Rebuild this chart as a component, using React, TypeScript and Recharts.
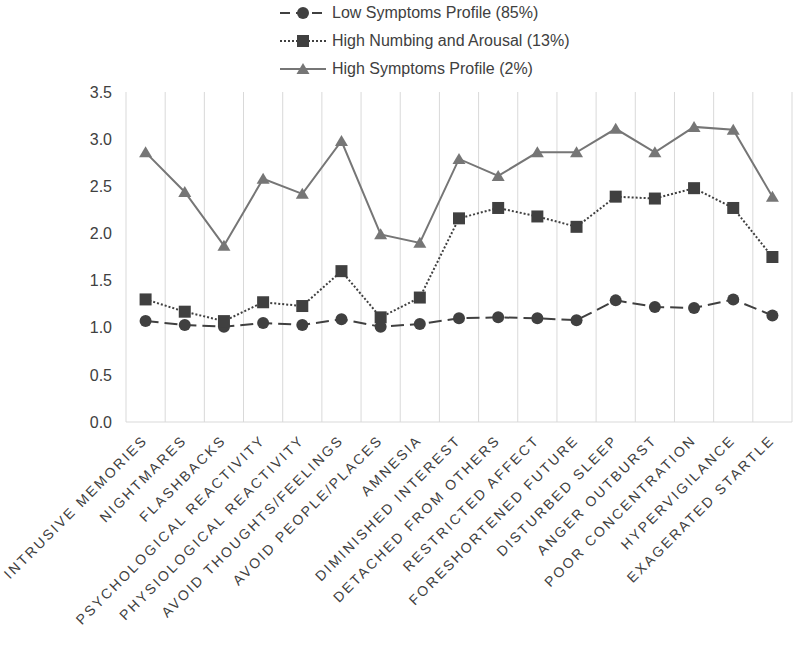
import React from 'react';
import { LineChart, Line, XAxis, YAxis, CartesianGrid, Legend } from 'recharts';

const categories = [
  'INTRUSIVE MEMORIES',
  'NIGHTMARES',
  'FLASHBACKS',
  'PSYCHOLOGICAL REACTIVITY',
  'PHYSIOLOGICAL REACTIVITY',
  'AVOID THOUGHTS/FEELINGS',
  'AVOID PEOPLE/PLACES',
  'AMNESIA',
  'DIMINISHED INTEREST',
  'DETACHED FROM OTHERS',
  'RESTRICTED AFFECT',
  'FORESHORTENED FUTURE',
  'DISTURBED SLEEP',
  'ANGER OUTBURST',
  'POOR CONCENTRATION',
  'HYPERVIGILANCE',
  'EXAGERATED STARTLE',
];

const lowSymptoms = [1.07, 1.03, 1.01, 1.05, 1.03, 1.09, 1.01, 1.04, 1.1, 1.11, 1.1, 1.08, 1.29, 1.22, 1.21, 1.3, 1.13];
const highNumbing = [1.3, 1.17, 1.07, 1.27, 1.23, 1.6, 1.11, 1.32, 2.16, 2.27, 2.18, 2.07, 2.39, 2.37, 2.48, 2.27, 1.75];
const highSymptoms = [2.86, 2.44, 1.87, 2.58, 2.42, 2.98, 1.99, 1.9, 2.79, 2.61, 2.86, 2.86, 3.11, 2.86, 3.13, 3.1, 2.39];

const yTicks = [0, 0.5, 1, 1.5, 2, 2.5, 3, 3.5];

const data = categories.map((name, i) => ({
  name,
  low: lowSymptoms[i],
  numbing: highNumbing[i],
  high: highSymptoms[i],
}));

const TEXT = '#404040';
const FONT = '"Liberation Sans", Arial, sans-serif';

type Shape = 'circle' | 'square' | 'triangle';

const SERIES: Array<{ key: string; label: string; color: string; markerColor: string; dash?: string; legendDash?: string; shape: Shape }> = [
  { key: 'low', label: 'Low Symptoms Profile (85%)', color: '#404040', markerColor: '#404040', dash: '13 6', legendDash: '10 6', shape: 'circle' },
  { key: 'numbing', label: 'High Numbing and Arousal (13%)', color: '#404040', markerColor: '#404040', dash: '2 2', legendDash: '2 2', shape: 'square' },
  { key: 'high', label: 'High Symptoms Profile (2%)', color: '#767676', markerColor: '#767676', shape: 'triangle' },
];

const Marker = ({ cx, cy, shape, color }: { cx: number; cy: number; shape: Shape; color: string }) => {
  if (shape === 'circle') return <circle cx={cx} cy={cy} r={6} fill={color} />;
  if (shape === 'square') return <rect x={cx - 6} y={cy - 6} width={12} height={12} fill={color} />;
  return <polygon points={`${cx},${cy - 6} ${cx + 6.5},${cy + 5} ${cx - 6.5},${cy + 5}`} fill={color} />;
};

const makeDot = (shape: Shape, color: string) => (props: any) => (
  <Marker key={`${shape}-${props.index}`} cx={props.cx} cy={props.cy} shape={shape} color={color} />
);

// rotated category labels, anchored at their end just under the tick
const CategoryTick = ({ x, y, payload }: any) => (
  <g transform={`translate(${x + 3},${y + 19})`}>
    <text
      textAnchor="end"
      transform="rotate(-45)"
      fontSize={14}
      letterSpacing={2.3}
      fill={TEXT}
      fontFamily={FONT}
    >
      {payload.value}
    </text>
  </g>
);

const LegendContent = () => (
  <div style={{ position: 'absolute', left: 280, top: -1, fontFamily: FONT, fontSize: 16, color: TEXT }}>
    {SERIES.map((s) => (
      <div key={s.key} style={{ display: 'flex', alignItems: 'center', height: 28 }}>
        <svg width={50} height={16} style={{ marginRight: 2 }}>
          <line x1={0} y1={8} x2={46} y2={8} stroke={s.color} strokeWidth={2} strokeDasharray={s.legendDash} />
          <Marker cx={23} cy={8} shape={s.shape} color={s.markerColor} />
        </svg>
        <span>{s.label}</span>
      </div>
    ))}
  </div>
);

export default function App() {
  return (
    <div style={{ position: 'absolute', left: 0, top: 0, width: 800, height: 668, background: '#fff' }}>
      <LineChart width={800} height={668} data={data} margin={{ top: 92, right: 8, left: 0, bottom: 0 }}>
        <CartesianGrid
          horizontal={false}
          stroke="#d9d9d9"
          verticalCoordinatesGenerator={({ offset }: any) =>
            Array.from({ length: categories.length + 1 }, (_, i) => offset.left + (i * offset.width) / categories.length)
          }
        />
        <XAxis
          dataKey="name"
          scale="band"
          interval={0}
          height={246}
          tickLine={false}
          tickSize={0}
          tickMargin={0}
          axisLine={{ stroke: '#d9d9d9' }}
          tick={<CategoryTick />}
        />
        <YAxis
          width={126}
          domain={[0, 3.5]}
          ticks={yTicks}
          tickFormatter={(v: number) => v.toFixed(1)}
          axisLine={false}
          tickLine={false}
          tickSize={0}
          tickMargin={14}
          tick={{ fill: TEXT, fontSize: 16, fontFamily: FONT }}
        />
        <Legend
          layout="vertical"
          verticalAlign="middle"
          align="center"
          wrapperStyle={{ top: 0, left: 0, width: 800, height: 90 }}
          content={<LegendContent />}
        />
        {SERIES.map((s) => (
          <Line
            key={s.key}
            dataKey={s.key}
            type="linear"
            stroke={s.color}
            strokeWidth={2}
            strokeDasharray={s.dash}
            dot={makeDot(s.shape, s.markerColor)}
            activeDot={false}
            isAnimationActive={false}
          />
        ))}
      </LineChart>
    </div>
  );
}
